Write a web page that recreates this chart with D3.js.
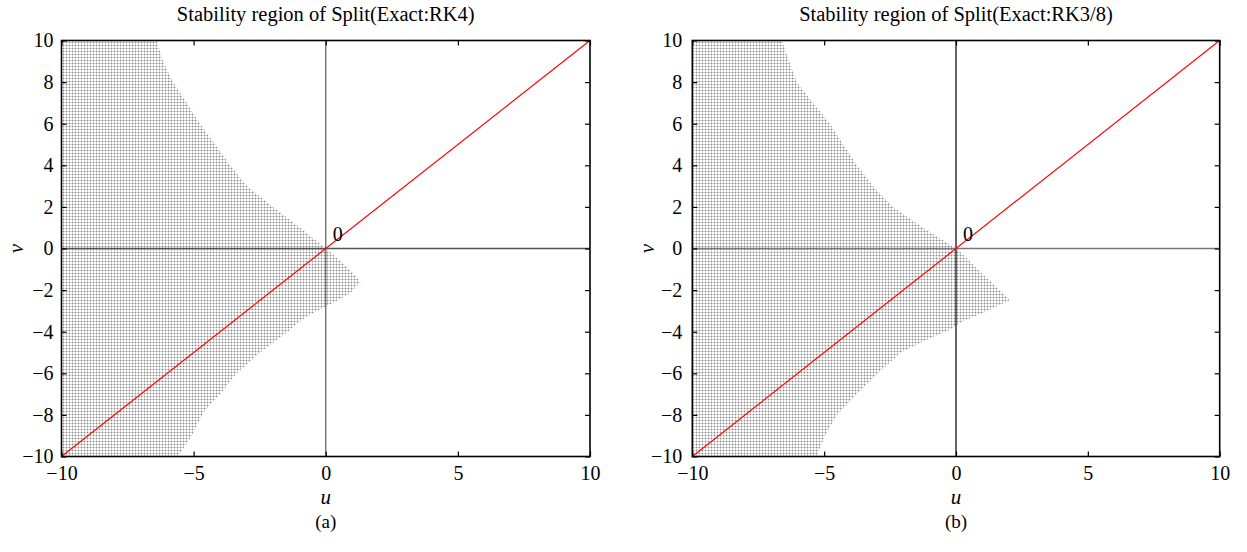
<!DOCTYPE html>
<html>
<head>
<meta charset="utf-8">
<script src="https://cdn.jsdelivr.net/npm/d3@7"></script>
<style>
  body { margin: 0; background: #fff; }
  svg { display: block; font-family: "Liberation Serif", "DejaVu Serif", serif; }
</style>
</head>
<body>
<svg id="chart" width="1247" height="552"></svg>
<script>
// axis ticks
const uTicks = [-10, -5, 0, 5, 10];
const vTicks = [-10, -8, -6, -4, -2, 0, 2, 4, 6, 8, 10];

// stability region boundary (u, v), closed over the left side
const regionRK4 = [
  [-10, 10], [-6.4, 10], [-6.16, 9], [-5.78, 8], [-5.26, 7], [-4.76, 6], [-4.19, 5],
  [-3.62, 4], [-2.99, 3], [-2.0, 2], [-0.97, 1], [0, 0], [0.23, -0.24], [0.79, -0.88],
  [1.32, -1.6], [0.92, -2.16], [0.23, -2.64], [-0.03, -2.8], [-0.72, -3.28],
  [-1.1, -3.6], [-1.35, -3.92], [-2.49, -5], [-3.36, -5.98], [-4.0, -7], [-4.64, -7.9],
  [-5.07, -9], [-5.6, -10], [-10, -10]
];
const regionRK38 = [
  [-10, 10], [-6.6, 10], [-6.33, 9], [-6.04, 8], [-5.42, 7], [-4.78, 6], [-4.28, 5],
  [-3.76, 4], [-3.15, 3], [-2.39, 2], [-1.25, 1], [0, 0], [0.22, -0.23], [0.97, -1.19],
  [2.05, -2.48], [1.02, -3.1], [0.22, -3.52], [-0.23, -3.92], [-0.87, -4.24],
  [-2.1, -5.0], [-2.96, -6.0], [-3.76, -7], [-4.52, -8.0], [-4.97, -9], [-5.28, -10],
  [-10, -10]
];
// red reference line v = u
const diagonal = [[-10, -10], [10, 10]];

const panels = [
  { id: "a", title: "Stability region of Split(Exact:RK4)", region: regionRK4,
    left: 61.5, right: 590, vZero: "#666", hZero: "#555", gap: 8 },
  { id: "b", title: "Stability region of Split(Exact:RK3/8)", region: regionRK38,
    left: 692.3, right: 1219.7, vZero: "#111", hZero: "#777", gap: 10 }
];
const plotTop = 40.5, plotBottom = 456.5;

const svg = d3.select("#chart");
const defs = svg.append("defs");

// stipple fill
const pat = defs.append("pattern").attr("id", "stipple")
  .attr("patternUnits", "userSpaceOnUse").attr("width", 3).attr("height", 3);
pat.append("rect").attr("width", 3).attr("height", 3).attr("fill", "#fff");
pat.append("rect").attr("width", 1).attr("height", 3).attr("fill", "#d2d2d2");
pat.append("rect").attr("width", 3).attr("height", 1).attr("fill", "#d2d2d2");
pat.append("rect").attr("width", 1).attr("height", 1).attr("fill", "#8a8a8a");

panels.forEach(p => {
  const x = d3.scaleLinear().domain([-10, 10]).range([p.left, p.right]);
  const y = d3.scaleLinear().domain([-10, 10]).range([plotBottom, plotTop]);
  const cx = (p.left + p.right) / 2;

  defs.append("clipPath").attr("id", "clip-" + p.id)
    .append("rect").attr("x", p.left).attr("y", plotTop)
    .attr("width", p.right - p.left).attr("height", plotBottom - plotTop);

  const g = svg.append("g");
  const plot = g.append("g").attr("clip-path", `url(#clip-${p.id})`);

  const line = d3.line().x(d => x(d[0])).y(d => y(d[1]));

  plot.append("path")
    .attr("d", line(p.region) + "Z")
    .attr("fill", "url(#stipple)");

  // zero lines
  plot.append("line").attr("x1", x(0)).attr("x2", x(0)).attr("y1", plotTop).attr("y2", plotBottom)
    .attr("stroke", p.vZero).attr("stroke-width", 1.3);
  plot.append("line").attr("x1", p.left).attr("x2", p.right).attr("y1", y(0)).attr("y2", y(0))
    .attr("stroke", p.hZero).attr("stroke-width", 1.3);

  plot.append("path").datum(diagonal).attr("d", line)
    .attr("stroke", "#f00").attr("stroke-width", 1.2).attr("fill", "none");

  // axes with inward ticks on all four sides
  const fmt = d3.format("");
  const axB = g.append("g").attr("transform", `translate(0,${plotBottom})`)
    .call(d3.axisBottom(x).tickValues(uTicks).tickSize(-5).tickPadding(9).tickFormat(fmt));
  const axT = g.append("g").attr("transform", `translate(0,${plotTop})`)
    .call(d3.axisTop(x).tickValues(uTicks).tickSize(-5).tickFormat(""));
  const axL = g.append("g").attr("transform", `translate(${p.left},0)`)
    .call(d3.axisLeft(y).tickValues(vTicks).tickSize(-5).tickPadding(p.gap).tickFormat(fmt));
  const axR = g.append("g").attr("transform", `translate(${p.right},0)`)
    .call(d3.axisRight(y).tickValues(vTicks).tickSize(-5).tickFormat(""));
  [axB, axT, axL, axR].forEach(a => {
    a.select(".domain").remove();
    a.selectAll("line").attr("stroke", "#000").attr("stroke-width", 1.2);
    a.selectAll("text").attr("font-family", "Liberation Serif").attr("font-size", 20).attr("fill", "#000");
  });

  g.append("rect").attr("x", p.left).attr("y", plotTop)
    .attr("width", p.right - p.left).attr("height", plotBottom - plotTop)
    .attr("fill", "none").attr("stroke", "#000").attr("stroke-width", 1.6);

  g.append("text").attr("x", cx).attr("y", 21).attr("text-anchor", "middle")
    .attr("font-size", 20.5).text(p.title);

  g.append("text").attr("x", x(0) + 7).attr("y", y(0) - 8)
    .attr("font-size", 20).text("0");

  g.append("text").attr("x", cx).attr("y", 504).attr("text-anchor", "middle")
    .attr("font-size", 21).attr("font-style", "italic").text("u");

  g.append("text").attr("transform", `translate(${p.left - 46},${y(0)}) rotate(-90)`)
    .attr("text-anchor", "middle").attr("dy", "0.35em")
    .attr("font-size", 21).attr("font-style", "italic").text("v");

  g.append("text").attr("x", cx).attr("y", 528).attr("text-anchor", "middle")
    .attr("font-size", 19).text(`(${p.id})`);
});
</script>
</body>
</html>
